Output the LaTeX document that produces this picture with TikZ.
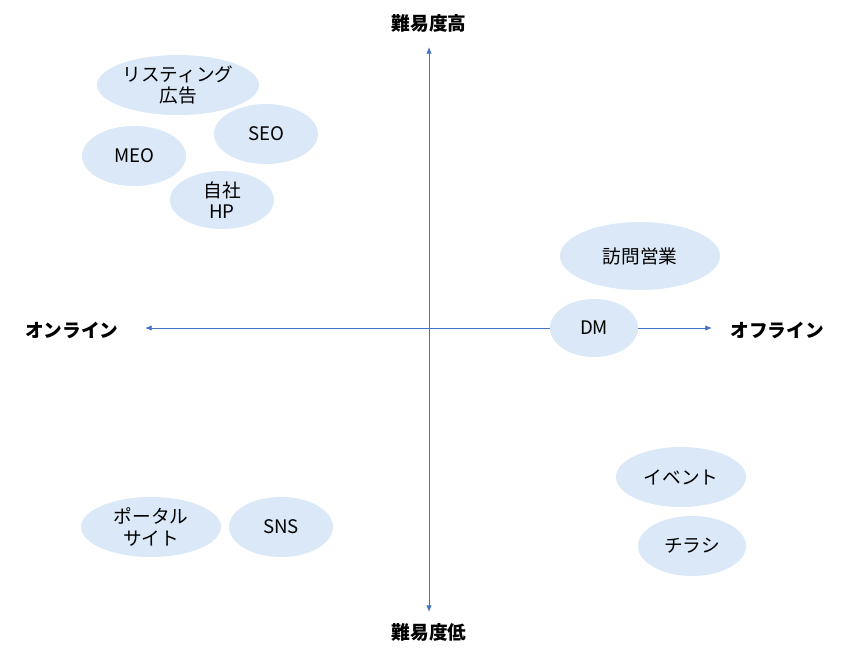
\documentclass[tikz,border=0pt]{standalone}
\usepackage{fontspec}
\setmainfont{Noto Sans CJK JP}
\usetikzlibrary{arrows.meta,shapes.geometric}
\definecolor{ellfill}{HTML}{DAE8F7}
\definecolor{axis}{HTML}{4472C4}
\tikzset{
 bub/.style={ellipse, fill=ellfill, draw=none, inner sep=0pt, font=\fontsize{14}{16}\selectfont, align=center},
 ax/.style={draw=axis, line width=0.6pt, {Latex[length=5pt,width=4pt]}-{Latex[length=5pt,width=4pt]}},
 lab/.style={font=\fontsize{14}{16}\selectfont\bfseries}
}
\begin{document}
\begin{tikzpicture}[x=0.75pt,y=-0.75pt]
\useasboundingbox (0,0) rectangle (864,653);
\coordinate (top) at (429,47);
\coordinate (bot) at (429,612);
\coordinate (lft) at (145,328);
\coordinate (rgt) at (712,328);
\draw[ax] (top) -- (bot);
\draw[ax] (lft) -- (rgt);
\node[lab] (hi) at (429,23) {難易度高};
\node[lab] (lo) at (429,632) {難易度低};
\node[lab] (on) at (72,330) {オンライン};
\node[lab] (off) at (777,330) {オフライン};
\node[bub, minimum width=162*0.75pt, minimum height=60*0.75pt] (list) at (178,85) {リスティング\\広告};
\node[bub, minimum width=104*0.75pt, minimum height=60*0.75pt] (seo) at (266,134) {SEO};
\node[bub, minimum width=104*0.75pt, minimum height=60*0.75pt] (meo) at (134,156) {MEO};
\node[bub, minimum width=104*0.75pt, minimum height=58*0.75pt] (hp) at (222,200) {自社\\HP};
\node[bub, minimum width=160*0.75pt, minimum height=68*0.75pt] (visit) at (640,256) {訪問営業};
\node[bub, minimum width=88*0.75pt, minimum height=58*0.75pt] (dm) at (594,328) {DM};
\node[bub, minimum width=130*0.75pt, minimum height=60*0.75pt] (event) at (681,477) {イベント};
\node[bub, minimum width=108*0.75pt, minimum height=60*0.75pt] (flyer) at (692,546) {チラシ};
\node[bub, minimum width=140*0.75pt, minimum height=60*0.75pt] (portal) at (151,527) {ポータル\\サイト};
\node[bub, minimum width=104*0.75pt, minimum height=60*0.75pt] (sns) at (281,527) {SNS};
\end{tikzpicture}
\end{document}
